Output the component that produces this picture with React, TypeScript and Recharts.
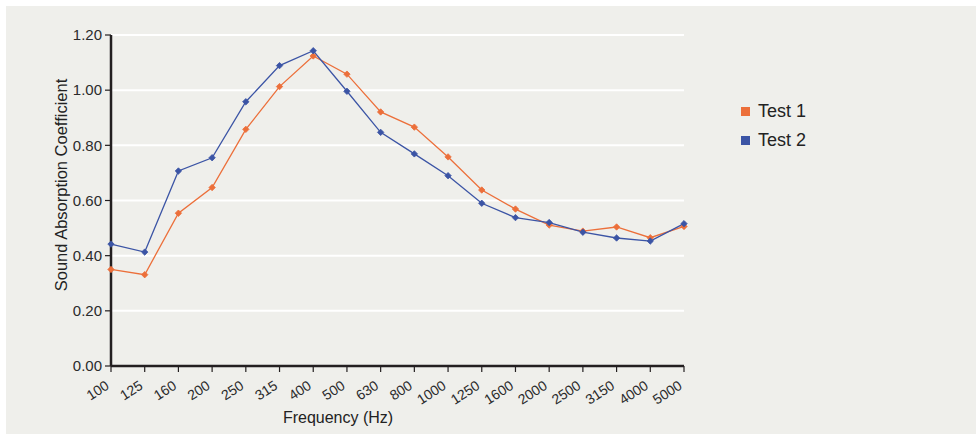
import React from "react";
import { CartesianGrid, Line, LineChart, XAxis, YAxis } from "recharts";

const frequencies = ["100", "125", "160", "200", "250", "315", "400", "500", "630", "800", "1000", "1250", "1600", "2000", "2500", "3150", "4000", "5000"];
const test1 = [0.35, 0.331, 0.554, 0.647, 0.858, 1.013, 1.124, 1.058, 0.921, 0.866, 0.758, 0.638, 0.569, 0.511, 0.489, 0.504, 0.465, 0.506];
const test2 = [0.442, 0.413, 0.707, 0.755, 0.958, 1.089, 1.143, 0.996, 0.847, 0.769, 0.69, 0.59, 0.538, 0.52, 0.485, 0.464, 0.453, 0.516];
const yTicks = [0, 0.2, 0.4, 0.6, 0.8, 1.0, 1.2];

const ORANGE = "#ec6f3a";
const BLUE = "#3b54a5";
const NARROW = "'Liberation Sans Narrow', 'Arial Narrow', sans-serif";
const SANS = "'Liberation Sans', Arial, sans-serif";

const rows = frequencies.map((f, i) => ({ f, t1: test1[i], t2: test2[i] }));
const series = [
  { key: "t1", name: "Test 1", color: ORANGE },
  { key: "t2", name: "Test 2", color: BLUE },
];

function Diamond({ cx, cy, stroke }: any) {
  if (cx == null || cy == null) return null;
  const r = 3.2;
  return <path d={`M${cx},${cy - r}L${cx + r},${cy}L${cx},${cy + r}L${cx - r},${cy}Z`} fill={stroke} stroke={stroke} strokeWidth={0.8} />;
}

function FreqTick({ x, y, payload }: any) {
  return (
    <g transform={`translate(${x - 1},${y + 14})`}>
      <text x={0} y={0} textAnchor="end" transform="rotate(-33)" fontFamily={NARROW} fontSize={14} fill="#2b2b2b">
        {payload.value}
      </text>
    </g>
  );
}

function LegendBox() {
  return (
    <div style={{ position: "absolute", left: 741, top: 97 }}>
      {series.map((s) => (
        <div key={s.key} style={{ display: "flex", alignItems: "center", height: 29, fontFamily: SANS, fontSize: 18, color: "#222" }}>
          <span style={{ width: 9, height: 9, background: s.color, marginRight: 8, display: "inline-block" }} />
          {s.name}
        </div>
      ))}
    </div>
  );
}

export default function App() {
  return (
    <div style={{ position: "absolute", left: 0, top: 0, width: 976, height: 436, background: "#ffffff" }}>
      <div style={{ position: "absolute", left: 6, top: 6, width: 970, height: 428, background: "#efefeb" }} />
      <div style={{ position: "absolute", left: 0, top: 0 }}>
        <LineChart width={976} height={436} data={rows} margin={{ top: 35, right: 292, bottom: 20, left: 51 }}>
          <CartesianGrid vertical={false} stroke="#ffffff" strokeWidth={2} />
          <XAxis
            dataKey="f"
            interval={0}
            height={50}
            tick={<FreqTick />}
            tickSize={6}
            axisLine={{ stroke: "#231f20", strokeWidth: 2.5 }}
            tickLine={{ stroke: "#231f20", strokeWidth: 1.2 }}
            label={{
              content: () => (
                <text x={338} y={423} textAnchor="middle" fontFamily={SANS} fontSize={16} fill="#222">
                  Frequency (Hz)
                </text>
              ),
            }}
          />
          <YAxis
            width={60}
            domain={[0, 1.2]}
            ticks={yTicks}
            interval={0}
            tickFormatter={(v: number) => v.toFixed(2)}
            tick={{ fontFamily: NARROW, fontSize: 15, fill: "#2b2b2b" }}
            tickSize={6}
            tickMargin={3}
            axisLine={{ stroke: "#231f20", strokeWidth: 2.5 }}
            tickLine={{ stroke: "#231f20", strokeWidth: 1.2 }}
            label={{
              content: () => (
                <text x={0} y={0} transform="translate(67,185) rotate(-90)" textAnchor="middle" fontFamily={SANS} fontSize={16.5} fill="#222">
                  Sound Absorption Coefficient
                </text>
              ),
            }}
          />
          {series.map((s) => (
            <Line key={s.key} type="linear" dataKey={s.key} name={s.name} stroke={s.color} strokeWidth={1.3} dot={<Diamond />} activeDot={false} isAnimationActive={false} />
          ))}
        </LineChart>
      </div>
      <LegendBox />
    </div>
  );
}
